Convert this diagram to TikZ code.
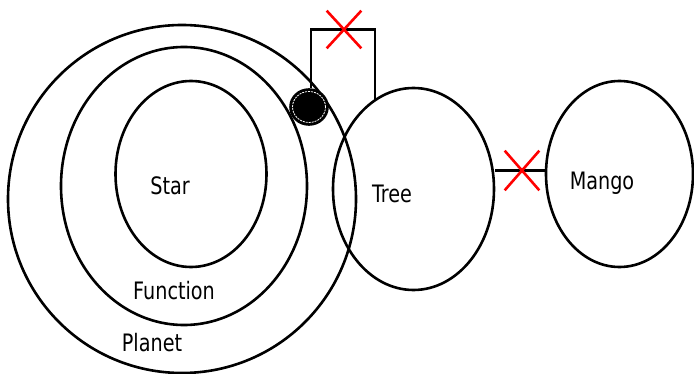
\documentclass[tikz,border=0pt]{standalone}
\usepackage{fontspec}
\setmainfont{DejaVu Sans}[FakeStretch=0.8]
\usetikzlibrary{shapes.geometric,shapes.misc}
\begin{document}
\begin{tikzpicture}[x=1pt, y=-1pt, line width=2.6pt,
		ring/.style={ellipse, draw, inner sep=0pt},
		dotmark/.style={ellipse, draw, line width=1.6pt, fill=black, inner sep=0pt},
		cut/.style={cross out, draw=red, inner sep=0pt},
		tag/.style={anchor=base, inner sep=0pt, font=\fontsize{24}{28}\selectfont}]
	\useasboundingbox (0,0) rectangle (694,374);
	
	% nested rings
	\node[ring, minimum width=348pt, minimum height=348pt] (planet) at (182,199) {};
	\node[ring, minimum width=246pt, minimum height=278pt] (function) at (184,186) {};
	\node[ring, minimum width=151pt, minimum height=186pt] (star) at (191,174) {};
	\node[ring, minimum width=161pt, minimum height=202pt] (tree) at (413.5,189) {};
	\node[ring, minimum width=147pt, minimum height=186pt] (mango) at (619.5,174) {};
	
	\node[tag] (starlabel) at (170,195) {Star};
	\node[tag] (functionlabel) at (174,300) {Function};
	\node[tag] (planetlabel) at (152,352) {Planet};
	\node[tag] (treelabel) at (392,203) {Tree};
	\node[tag] (mangolabel) at (602,190) {Mango};
	
	% cut links
	\node[dotmark, minimum width=38pt, minimum height=36pt] (dot) at (309,107) {};
	\draw[white, line width=0.8pt, dash pattern=on 2pt off 1pt] (dot.center) ellipse (16.5pt and 15.5pt);
	\coordinate (cuttop) at (344,29.5);
	\coordinate (cutright) at (522,170.5);
	\draw ([xshift=2pt]dot.north) |- (cuttop) -| (tree.113);
	\draw (cutright -| tree.east) -- (cutright -| mango.west);
	\node[cut, minimum width=32pt, minimum height=35pt] (crosstop) at (cuttop) {};
	\node[cut, minimum width=32pt, minimum height=37pt] (crossright) at (cutright) {};
\end{tikzpicture}
\end{document}
